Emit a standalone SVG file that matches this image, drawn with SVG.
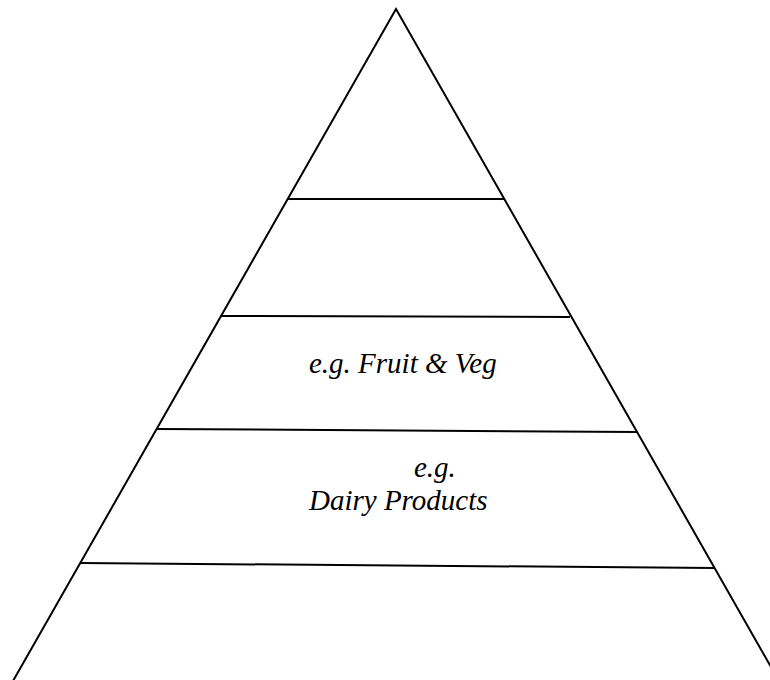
<svg xmlns="http://www.w3.org/2000/svg" width="770" height="680" viewBox="0 0 770 680">
<style>
.ln{stroke:#000;stroke-width:2;fill:none;stroke-linecap:butt}
.lbl{font-family:"Liberation Serif","Times New Roman",serif;font-style:italic;font-size:29px;fill:#000}
</style>
<rect width="770" height="680" fill="#fff"/>
<g id="connectors">
<polyline class="ln" points="13,681 396,9 779,681"/>
</g>
<g id="tier1"><line class="ln" x1="287" y1="199" x2="504" y2="199"/></g>
<g id="tier2"><line class="ln" x1="221" y1="316" x2="570" y2="317"/></g>
<g id="tier3"><line class="ln" x1="157" y1="429" x2="637" y2="432"/>
<text class="lbl" x="309" y="373">e.g. Fruit &amp; Veg</text></g>
<g id="tier4"><line class="ln" x1="80" y1="563" x2="715" y2="568"/>
<text class="lbl" x="414" y="477">e.g.</text>
<text class="lbl" x="309" y="510">Dairy Products</text></g>
</svg>
